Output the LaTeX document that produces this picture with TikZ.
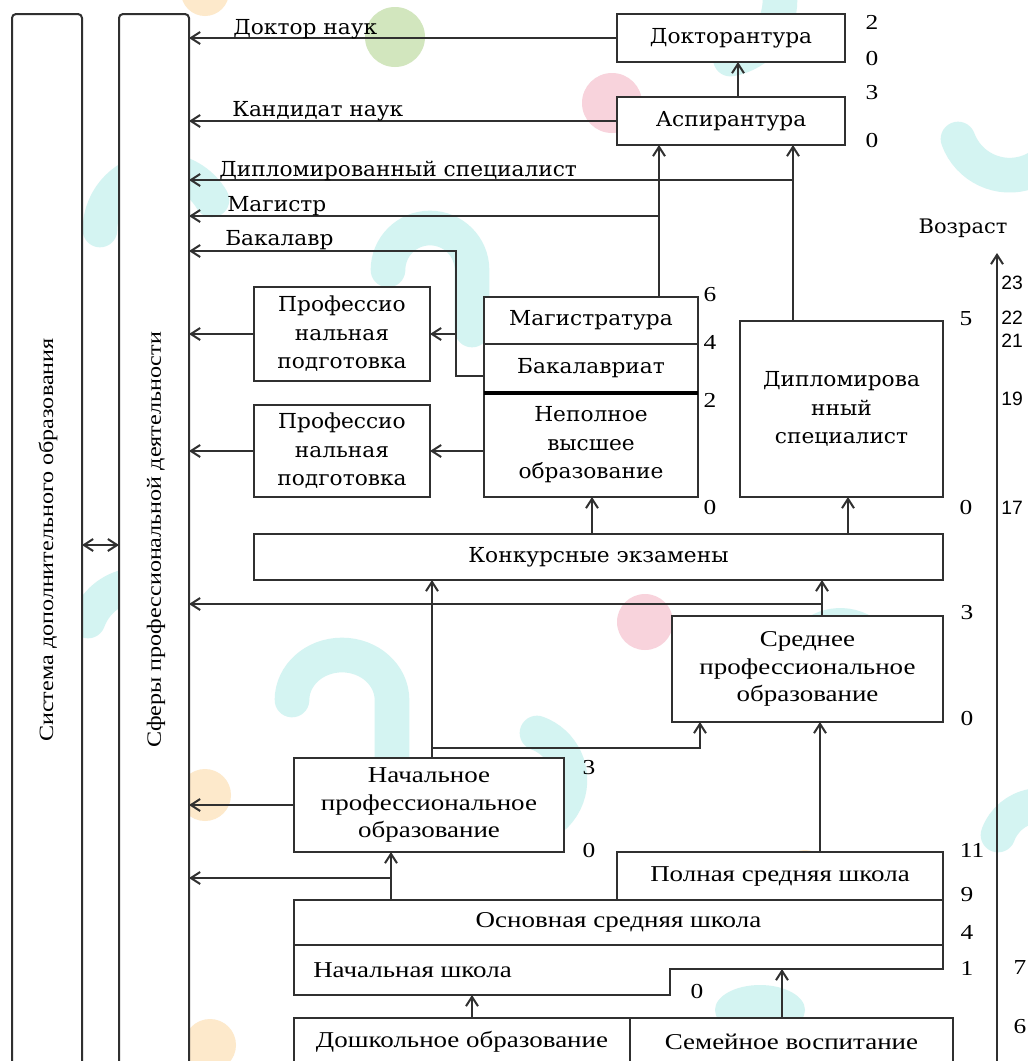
\documentclass[tikz,border=0pt]{standalone}
\usepackage{fontspec}
\setmainfont{DejaVu Serif}
\newfontfamily\wfont[FakeStretch=1.05]{DejaVu Serif}
\newfontfamily\nfont[FakeStretch=1.19]{Liberation Serif}
\newfontfamily\afont{Liberation Sans}
\usetikzlibrary{arrows.meta,calc}
\definecolor{lc}{HTML}{303030}
\definecolor{tealb}{HTML}{D4F4F2}
\definecolor{pinkb}{HTML}{F8D3DC}
\definecolor{greenb}{HTML}{D2E6BE}
\definecolor{peachb}{HTML}{FDE9CB}
\begin{document}
\begin{tikzpicture}[x=0.75pt,y=-0.75pt,
  box/.style={draw=lc, line width=1.5pt, fill=white, inner sep=0pt, outer sep=0pt, align=center, text=black},
  rect/.style args={#1,#2,#3,#4}{minimum width={(#3-#1)*0.75pt}, minimum height={(#4-#2)*0.75pt}, at={({(#1+#3)/2},{(#2+#4)/2})}},
  wtxt/.style={font=\wfont\fontsize{15.5}{21.4}\selectfont},
  ntxt/.style={font=\nfont\fontsize{17}{20.5}\selectfont},
  vtxt/.style={font=\nfont\fontsize{15.2}{18}\selectfont, rotate=90, inner sep=0pt},
  arr/.style={draw=lc, line width=1.5pt, -{Straight Barb[length=7pt,width=9pt]}},
  darr/.style={draw=lc, line width=1.5pt, {Straight Barb[length=7pt,width=9pt]}-{Straight Barb[length=7pt,width=9pt]}},
  ln/.style={draw=lc, line width=1.5pt},
  num/.style={font=\nfont\fontsize{16}{16}\selectfont, inner sep=0pt},
  anum/.style={font=\afont\fontsize{14.5}{14.5}\selectfont, inner sep=0pt, anchor=west},
  lbl/.style={font=\wfont\fontsize{15.5}{18}\selectfont, inner sep=0pt, anchor=base west},
  tarc/.style={draw=tealb, line width=26pt, line cap=round},
]
\clip (0,0) rectangle (1028,1061);
\fill[white] (0,0) rectangle (1028,1061);
% decorative background blobs
\fill[peachb] (205,-8) circle[radius=24];
\fill[greenb] (395,37) circle[radius=30];
\fill[pinkb] (612,103) circle[radius=30];
\fill[pinkb] (645,622) circle[radius=28];
\fill[peachb] (205,795) circle[radius=26];
\fill[peachb] (210,1045) circle[radius=26];
\fill[peachb] (805,872) circle[radius=22];
\fill[tealb] (760,1010) ellipse[x radius=45, y radius=25];
\draw[tarc] (388,270) arc[start angle=180, end angle=360, radius=42] -- (472,330);
\draw[tarc] (958,139) arc[start angle=160, end angle=30, radius=55];
\draw[tarc] (780,0) arc[start angle=0, end angle=80, radius=60];
\draw[tarc] (100,230) arc[start angle=180, end angle=330, radius=60];
\draw[tarc] (292,700) arc[start angle=180, end angle=360, x radius=50, y radius=45] -- (392,780);
\draw[tarc] (537,733) arc[start angle=-70, end angle=70, radius=50];
\draw[tarc] (88,621) arc[start angle=200, end angle=260, radius=55];
\draw[tarc] (798,655) arc[start angle=200, end angle=340, radius=45];
\draw[tarc] (812,392) arc[start angle=220, end angle=320, radius=50];
\draw[tarc] (998,835) arc[start angle=200, end angle=260, radius=45];

% columns
\node[box, rounded corners=3pt, rect={12,14,82,1070}] (sdo) {};
\node[vtxt] (sdot) at (48,540) {Система дополнительного образования};
\node[box, rounded corners=3pt, rect={119,14,189,1070}] (sf) {};
\node[vtxt] (sft) at (156,540) {Сферы профессиональной деятельности};

% boxes
\node[box, wtxt, rect={617,14,845,62}] (dokt) {Докторантура};
\node[box, wtxt, rect={617,97,845,145}] (asp) {Аспирантура};
\node[box, wtxt, rect={254,287,430,381}] (prof1) {Профессио\\нальная\\подготовка};
\node[box, wtxt, rect={254,405,430,497}] (prof2) {Профессио\\нальная\\подготовка};
\node[box, wtxt, rect={484,297,698,344}] (mag) {Магистратура};
\node[box, wtxt, rect={484,344,698,393}] (bak) {Бакалавриат};
\node[box, wtxt, rect={484,393,698,497}] (nep) {Неполное\\высшее\\образование};
\draw[black, line width=2.6pt] (nep.north west) -- (nep.north east);
\node[box, wtxt, rect={740,321,943,497}] (dipl) {Дипломирова\\нный\\специалист};
\node[box, wtxt, rect={254,534,943,580}] (konk) {Конкурсные экзамены};
\node[box, ntxt, rect={672,616,943,722}] (sred) {Среднее\\профессиональное\\образование};
\node[box, ntxt, rect={294,758,564,852}] (nach) {Начальное\\профессиональное\\образование};
\node[box, ntxt, rect={617,852,943,900}] (poln) {Полная средняя школа};
\node[box, ntxt, rect={294,900,943,945}] (osn) {Основная средняя школа};
\draw[ln, fill=white, line join=miter] (osn.south west) -- (osn.south east) -- (943,969) coordinate (ns1)
  -- (670,969) coordinate (ns2) -- (670,995) coordinate (ns3) -- (294,995) coordinate (ns4) -- cycle;
\node[ntxt, anchor=west, inner sep=0pt] (nachsh) at (313,970) {Начальная школа};
\node[box, ntxt, rect={294,1018,630,1066}] (dosh) {Дошкольное образование};
\node[box, ntxt, rect={630,1018,953,1066}] (sem) {Семейное воспитание};

% helper coordinates
\coordinate (xd) at (793,0);
\coordinate (xm) at (659,0);
\coordinate (xa) at (738,0);
\coordinate (xb) at (456,0);
\coordinate (yb) at (0,251);
\coordinate (yb2) at (0,376);
\coordinate (jd) at (793,180);
\coordinate (jm) at (659,216);
\coordinate (xk1) at (592,0);
\coordinate (xk2) at (848,0);
\coordinate (xs) at (822,0);
\coordinate (js) at (822,604);
\coordinate (xn) at (432,0);
\coordinate (jn) at (432,748);
\coordinate (xs2) at (700,0);
\coordinate (xo) at (391,0);
\coordinate (jo) at (391,878);
\coordinate (xp) at (820,0);
\coordinate (xdo) at (472,0);
\coordinate (xse) at (782,0);
\coordinate (ydb) at (0,545);

% connectors: upper part
\draw[arr] (dokt.west) -- (dokt.west -| sf.east);
\draw[arr] (asp.west) -- (asp.west -| sf.east);
\draw[arr] (asp.north -| xa) -- (dokt.south -| xa);
\draw[arr] (dipl.north -| xd) -- (asp.south -| xd);
\draw[arr] (jd) -- (jd -| sf.east);
\draw[arr] (mag.north -| xm) -- (asp.south -| xm);
\draw[arr] (jm) -- (jm -| sf.east);
\draw[arr] (bak.west |- yb2) -| (yb -| xb) -- (yb -| sf.east);
\draw[arr] (prof1.east -| xb) -- (prof1.east);
\draw[arr] (prof1.west) -- (prof1.west -| sf.east);
\draw[arr] (nep.west |- prof2.east) -- (prof2.east);
\draw[arr] (prof2.west) -- (prof2.west -| sf.east);
\draw[darr] (sdo.east |- ydb) -- (sf.west |- ydb);

% labels on lines
\node[lbl] (l1) at (233,34) {Доктор наук};
\node[lbl] (l2) at (232,116) {Кандидат наук};
\node[lbl] (l3) at (219,176) {Дипломированный специалист};
\node[lbl] (l4) at (227,211) {Магистр};
\node[lbl] (l5) at (225,245) {Бакалавр};

% middle and lower connectors
\draw[arr] (konk.north -| xk1) -- (nep.south -| xk1);
\draw[arr] (konk.north -| xk2) -- (dipl.south -| xk2);
\draw[arr] (sred.north -| xs) -- (konk.south -| xs);
\draw[arr] (js) -- (js -| sf.east);
\draw[arr] (nach.north -| xn) -- (konk.south -| xn);
\draw[arr] (jn) -| (sred.south -| xs2);
\draw[arr] (nach.west) -- (nach.west -| sf.east);
\draw[arr] (osn.north -| xo) -- (nach.south -| xo);
\draw[arr] (jo) -- (jo -| sf.east);
\draw[arr] (poln.north -| xp) -- (sred.south -| xp);
\draw[arr] (dosh.north -| xdo) -- (ns4 -| xdo);
\draw[arr] (sem.north -| xse) -- (ns2 -| xse);

% age axis
\coordinate (ax0) at (997,1070);
\coordinate (ax1) at (997,253);
\draw[arr] (ax0) -- (ax1);
\node[font=\wfont\fontsize{15}{18}\selectfont, inner sep=0pt] (vozr) at (963,228) {Возраст};
\node[anum] (a23) at (1001,283) {23};
\node[anum] (a22) at (1001,318) {22};
\node[anum] (a21) at (1001,341) {21};
\node[anum] (a19) at (1001,399) {19};
\node[anum] (a17) at (1001,508) {17};
\node[num] (a7) at (1020,968) {7};
\node[num] (a6) at (1020,1027) {6};

% year numbers
\node[num] (n1) at (872,22) {2};
\node[num] (n2) at (872,59) {0};
\node[num] (n3) at (872,93) {3};
\node[num] (n4) at (872,141) {0};
\node[num] (n5) at (710,295) {6};
\node[num] (n6) at (710,342) {4};
\node[num] (n7) at (710,400) {2};
\node[num] (n8) at (710,508) {0};
\node[num] (n9) at (966,319) {5};
\node[num] (n10) at (966,508) {0};
\node[num] (n11) at (967,613) {3};
\node[num] (n12) at (967,718) {0};
\node[num] (n13) at (589,768) {3};
\node[num] (n14) at (589,850) {0};
\node[num] (n15) at (972,850) {11};
\node[num] (n16) at (967,895) {9};
\node[num] (n17) at (967,932) {4};
\node[num] (n18) at (967,968) {1};
\node[num] (n19) at (697,991) {0};
\end{tikzpicture}
\end{document}
